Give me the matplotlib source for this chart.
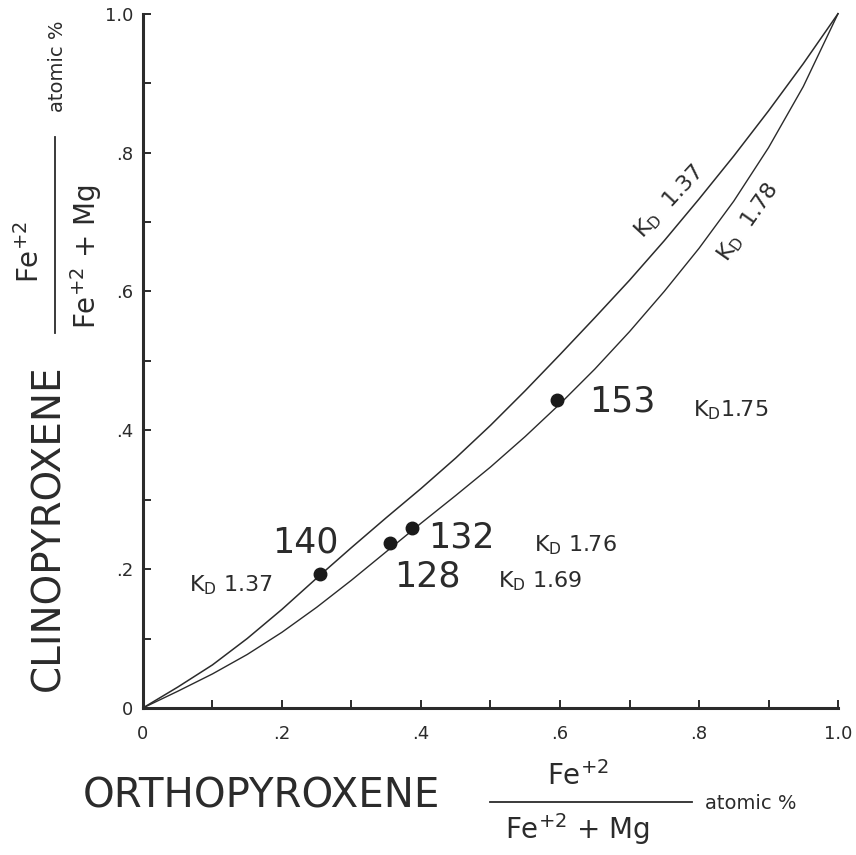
import numpy as np
import matplotlib
matplotlib.use("Agg")
import matplotlib.pyplot as plt
from matplotlib.lines import Line2D

# Fe/(Fe+Mg) in orthopyroxene (x) vs clinopyroxene (y)
opx_grid = [0.0, 0.05, 0.10, 0.15, 0.20, 0.25, 0.30, 0.35, 0.40, 0.45, 0.50,
            0.55, 0.60, 0.65, 0.70, 0.75, 0.80, 0.85, 0.90, 0.95, 1.0]
cpx_kd137 = [0.0, 0.030, 0.062, 0.100, 0.142, 0.187, 0.231, 0.274, 0.316, 0.360, 0.407,
             0.457, 0.509, 0.562, 0.616, 0.673, 0.733, 0.795, 0.860, 0.928, 1.0]
cpx_kd178 = [0.0, 0.024, 0.049, 0.077, 0.109, 0.145, 0.184, 0.225, 0.266, 0.306, 0.347,
             0.391, 0.438, 0.488, 0.542, 0.600, 0.662, 0.730, 0.807, 0.895, 1.0]

# analysed samples
sample_ids = ["140", "128", "132", "153"]
sample_opx = [0.255, 0.355, 0.387, 0.596]
sample_cpx = [0.193, 0.238, 0.259, 0.444]
sample_kd = ["1.37", "1.69", "1.76", "1.75"]

tick_vals = np.arange(0, 1.01, 0.1)
tick_text = ["0", "", ".2", "", ".4", "", ".6", "", ".8", "", "1.0"]

ink = "#2b2b2b"
plt.rcParams["font.family"] = ["DejaVu Sans"]
plt.rcParams["mathtext.fontset"] = "dejavusans"

fig = plt.figure(figsize=(8.56, 8.55), dpi=100)
ax = fig.add_axes([0.167, 0.172, 0.812, 0.812])

ax.plot(opx_grid, cpx_kd137, color=ink, lw=1.1, clip_on=False, solid_joinstyle="round")
ax.plot(opx_grid, cpx_kd178, color=ink, lw=1.0, clip_on=False, solid_joinstyle="round")
ax.plot(sample_opx, sample_cpx, "o", color="#1a1a1a", ms=9, clip_on=False)

ax.set_xlim(0, 1.0)
ax.set_ylim(0, 1.0)
for side in ["top", "right"]:
    ax.spines[side].set_visible(False)
for side in ["left", "bottom"]:
    ax.spines[side].set_linewidth(2.2)
    ax.spines[side].set_color(ink)

ax.set_xticks(tick_vals)
ax.set_xticklabels(tick_text)
ax.set_yticks(tick_vals)
ax.set_yticklabels(tick_text)
ax.tick_params(axis="both", direction="in", length=6, width=1.4, color=ink,
               labelsize=13, labelcolor=ink)
ax.tick_params(axis="x", pad=12)
ax.tick_params(axis="y", pad=7)

# sample numbers and KD values
num_kw = dict(fontsize=25, color=ink, ha="center", va="center")
kd_kw = dict(fontsize=16, color=ink, ha="center", va="center")
ax.text(0.233, 0.238, sample_ids[0], **num_kw)
ax.text(0.409, 0.189, sample_ids[1], **num_kw)
ax.text(0.458, 0.246, sample_ids[2], **num_kw)
ax.text(0.689, 0.441, sample_ids[3], **num_kw)
ax.text(0.127, 0.177, r"K$_{\mathrm{D}}$ " + sample_kd[0], **kd_kw)
ax.text(0.571, 0.183, r"K$_{\mathrm{D}}$ " + sample_kd[1], **kd_kw)
ax.text(0.622, 0.235, r"K$_{\mathrm{D}}$ " + sample_kd[2], **kd_kw)
ax.text(0.845, 0.429, r"K$_{\mathrm{D}}$" + sample_kd[3], **kd_kw)

# curve labels
ax.text(0.758, 0.729, r"K$_{\mathrm{D}}$  1.37", rotation=47, rotation_mode="anchor", **kd_kw)
ax.text(0.870, 0.700, r"K$_{\mathrm{D}}$  1.78", rotation=55, rotation_mode="anchor", **kd_kw)

# x axis title
fig.text(0.305, 0.068, "ORTHOPYROXENE", fontsize=29, color=ink, ha="center", va="center")
fig.text(0.675, 0.092, r"Fe$^{+2}$", fontsize=20, color=ink, ha="center", va="center")
fig.text(0.675, 0.030, r"Fe$^{+2}$ + Mg", fontsize=20, color=ink, ha="center", va="center")
fig.add_artist(Line2D([490 / 856, 692 / 856], [1 - 802 / 855, 1 - 802 / 855],
                      color=ink, lw=1.3, transform=fig.transFigure))
fig.text(0.824, 0.060, "atomic %", fontsize=14, color=ink, ha="left", va="center")

# y axis title
fig.text(0.057, 0.383, "CLINOPYROXENE", fontsize=28, color=ink, ha="center", va="center",
         rotation=90)
fig.text(0.035, 0.705, r"Fe$^{+2}$", fontsize=20, color=ink, ha="center", va="center",
         rotation=90)
fig.text(0.100, 0.700, r"Fe$^{+2}$ + Mg", fontsize=20, color=ink, ha="center", va="center",
         rotation=90)
fig.add_artist(Line2D([55 / 856, 55 / 856], [1 - 137 / 855, 1 - 333 / 855],
                      color=ink, lw=1.3, transform=fig.transFigure))
fig.text(0.067, 0.923, "atomic %", fontsize=14, color=ink, ha="center", va="center",
         rotation=90)

fig.savefig("out.png", dpi=100, facecolor="white")
